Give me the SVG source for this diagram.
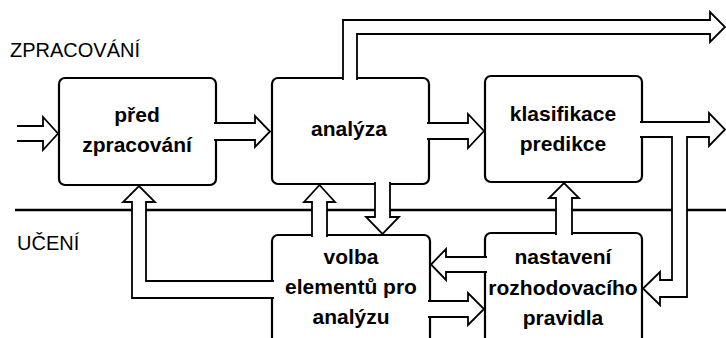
<svg xmlns="http://www.w3.org/2000/svg" width="726" height="338" viewBox="0 0 726 338">
  <style>
    .box { fill: #ffffff; stroke: #000000; stroke-width: 2.2; }
    .arrow { fill: #ffffff; stroke: #000000; stroke-width: 1.8; stroke-linejoin: miter; }
    .divider { stroke: #000000; stroke-width: 2.6; }
    .lane { font-family: "Liberation Sans", Arial, sans-serif; font-size: 20px; fill: #000000; }
    .label { font-family: "Liberation Sans", Arial, sans-serif; font-size: 21px; font-weight: bold; fill: #000000; text-anchor: middle; }
  </style>

  <rect width="726" height="338" fill="#ffffff"/>

  <!-- lanes -->
  <g id="lanes">
    <text class="lane" x="10" y="57">ZPRACOVÁNÍ</text>
    <text class="lane" x="17" y="250">UČENÍ</text>
    <line class="divider" x1="15" y1="210" x2="726" y2="210"/>
  </g>

  <!-- processing nodes -->
  <g id="predzpracovani">
    <rect class="box" x="59" y="78" width="157" height="107" rx="6"/>
    <text class="label" x="137" y="122">před</text>
    <text class="label" x="137" y="152">zpracování</text>
  </g>
  <g id="analyza">
    <rect class="box" x="272" y="78" width="157" height="106" rx="6"/>
    <text class="label" x="349" y="136">analýza</text>
  </g>
  <g id="klasifikace">
    <rect class="box" x="485" y="76" width="157" height="106" rx="6"/>
    <text class="label" x="563" y="121">klasifikace</text>
    <text class="label" x="563" y="151">predikce</text>
  </g>

  <!-- learning nodes -->
  <g id="volba">
    <rect class="box" x="272" y="235" width="158" height="130" rx="6"/>
    <text class="label" x="351" y="264">volba</text>
    <text class="label" x="351" y="294">elementů pro</text>
    <text class="label" x="351" y="324">analýzu</text>
  </g>
  <g id="nastaveni">
    <rect class="box" x="485" y="233" width="157" height="130" rx="6"/>
    <text class="label" x="563" y="264">nastavení</text>
    <text class="label" x="563" y="295">rozhodovacího</text>
    <text class="label" x="563" y="325">pravidla</text>
  </g>

  <!-- block arrows: open outlines so they merge with the box borders -->
  <g id="connectors">
    <!-- input -->
    <path class="arrow" d="M17,126 H43 V117 L58,133.5 L43,150 V141 H17"/>
    <!-- před zpracování -> analýza -->
    <path class="arrow" d="M214,123 H255 V116 L270,131.5 L255,147 V140 H214"/>
    <!-- analýza -> klasifikace -->
    <path class="arrow" d="M427,123 H468 V114 L484,131 L468,148 V139 H427"/>
    <!-- analýza -> top output -->
    <path class="arrow" d="M343,80 V20 H710 V12 L725,27 L710,42 V34 H357 V80"/>
    <!-- klasifikace -> output, with branch down to nastavení -->
    <path class="arrow" d="M640,122 H709 V113 L725,129.5 L709,146 V137 H687 V297 H660 V305 L643,288.5 L660,272 V280 H672 V137 H640"/>
    <!-- volba -> před zpracování -->
    <path class="arrow" d="M274,298 H132 V202 H123 L139,186 L155,202 H146 V281 H274"/>
    <!-- volba -> analýza -->
    <path class="arrow" d="M312,237 V202 H304 L319.5,185 L335,202 H327 V237"/>
    <!-- analýza -> volba -->
    <path class="arrow" d="M375,182 V217 H366 L382.5,234 L399,217 H390 V182"/>
    <!-- nastavení -> klasifikace -->
    <path class="arrow" d="M556,235 V198 H549 L564,183 L579,198 H572 V235"/>
    <!-- nastavení -> volba -->
    <path class="arrow" d="M487,257 H446 V249 L431,264.5 L446,280 V272 H487"/>
    <!-- volba -> nastavení -->
    <path class="arrow" d="M428,301 H468 V293 L484,309 L468,325 V317 H428"/>
  </g>
</svg>
